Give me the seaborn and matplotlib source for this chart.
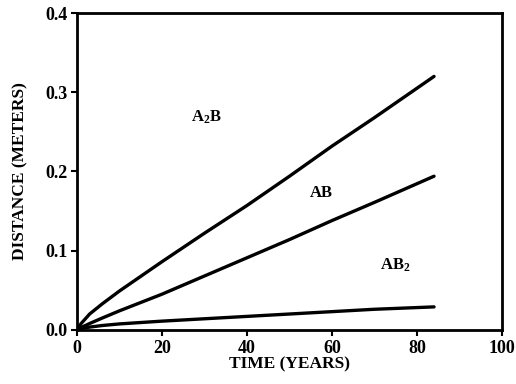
import numpy as np
import pandas as pd
import matplotlib
matplotlib.use("Agg")
import matplotlib.pyplot as plt
import seaborn as sns

# values
years = [0, 1, 3, 6, 10, 20, 30, 40, 50, 60, 70, 84]
dist_a2b = [0.0, 0.008, 0.020, 0.033, 0.049, 0.086, 0.122, 0.157, 0.194, 0.232, 0.268, 0.320]
dist_ab = [0.0, 0.003, 0.008, 0.015, 0.024, 0.045, 0.068, 0.091, 0.114, 0.138, 0.161, 0.194]
dist_ab2 = [0.0, 0.0015, 0.0035, 0.0055, 0.0075, 0.011, 0.014, 0.017, 0.020, 0.023, 0.026, 0.029]

x_ticks = [0, 20, 40, 60, 80, 100]
y_ticks = [0.0, 0.1, 0.2, 0.3, 0.4]

df = pd.DataFrame({
    'time': years * 3,
    'distance': dist_a2b + dist_ab + dist_ab2,
    'compound': ['A2B'] * len(years) + ['AB'] * len(years) + ['AB2'] * len(years),
})

sns.set_style("ticks")
plt.rcParams['font.family'] = ['Liberation Serif', 'DejaVu Serif']
plt.rcParams['font.weight'] = 'bold'
plt.rcParams['mathtext.default'] = 'regular'
plt.rcParams['text.color'] = 'black'
plt.rcParams['axes.labelcolor'] = 'black'

fig = plt.figure(figsize=(5.16, 3.84), dpi=100)
ax = fig.add_axes([0.149, 0.141, 0.824, 0.825])

sns.lineplot(data=df, x='time', y='distance', hue='compound',
             palette=['black', 'black', 'black'], linewidth=2.4,
             legend=False, ax=ax)

ax.set_xlim(0, 100)
ax.set_ylim(0, 0.4)
ax.set_xticks(x_ticks)
ax.set_yticks(y_ticks)
ax.set_yticklabels([f'{v:.1f}' for v in y_ticks])
ax.tick_params(direction='out', length=4, width=1.5, labelsize=13, colors='black', pad=3)
for lbl in ax.get_xticklabels() + ax.get_yticklabels():
    lbl.set_fontweight('bold')
for sp in ax.spines.values():
    sp.set_visible(True)
    sp.set_linewidth(2)
    sp.set_color('black')

ax.set_xlabel('TIME (YEARS)', fontsize=12.5, fontweight='bold', labelpad=0)
ax.set_ylabel('DISTANCE (METERS)', fontsize=12.5, fontweight='bold', labelpad=12)

ax.text(30.5, 0.268, 'A$_2$B', fontsize=12, fontweight='bold', ha='center', va='center')
ax.text(57.5, 0.173, 'AB', fontsize=12, fontweight='bold', ha='center', va='center')
ax.text(75, 0.082, 'AB$_2$', fontsize=12, fontweight='bold', ha='center', va='center')

fig.savefig('out.png', dpi=100)
